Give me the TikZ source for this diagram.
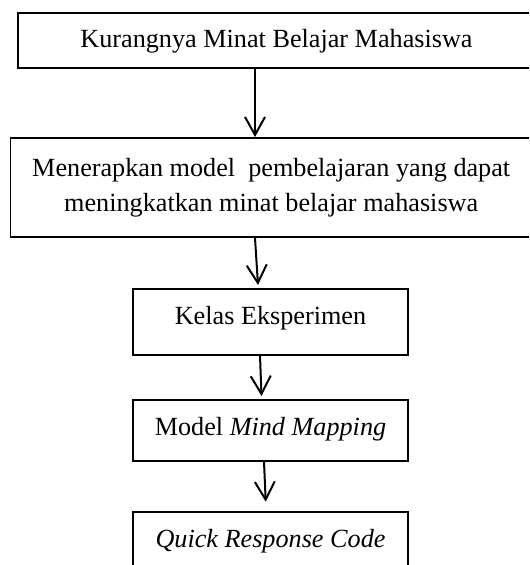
\documentclass[tikz,border=0pt]{standalone}
\usepackage{fontspec}
\setmainfont{Liberation Serif}
\usepackage{tikz}
\usetikzlibrary{arrows.meta}

\begin{document}
\begin{tikzpicture}[x=1pt,y=1pt,
	box/.style={draw, line width=0.8pt, inner xsep=0pt, inner ysep=0pt, anchor=north,
		font=\fontsize{13.1}{17.5}\selectfont},
	flow/.style={line width=1pt, -{Straight Barb[length=9pt,width=10pt,line width=1pt]}}]
	\useasboundingbox (0,0) rectangle (264.5,-282.5);
	\clip (0,0) rectangle (264.5,-282.5);
	% kotak-kotak alur
	\node[box, minimum width=258.5pt, text height=17.1pt, text depth=10.15pt] (kurang) at (138.25,-6.25) {Kurangnya Minat Belajar Mahasiswa};
	\node[box, minimum width=260.75pt, minimum height=49.75pt, align=center] (terap) at (135.6,-68.5) {Menerapkan model \ pembelajaran yang dapat\\meningkatkan minat belajar mahasiswa};
	\node[box, minimum width=137.5pt, text height=18pt, text depth=15pt] (kelas) at (135.25,-144) {Kelas Eksperimen};
	\node[box, minimum width=137.5pt, text height=18pt, text depth=12.5pt] (mind) at (135.25,-199.5) {Model \textit{Mind Mapping}};
	\node[box, minimum width=137.5pt, text height=17.85pt, text depth=15pt] (qrc) at (135.25,-255.5) {\textit{Quick Response Code}};
	% panah
	\draw [flow] ([xshift=-10.75pt]kurang.south) -- ([xshift=-8.1pt]terap.north);
	\draw [flow] ([xshift=-8.1pt]terap.south) -- ([xshift=-6.25pt,yshift=1.5pt]kelas.north);
	\draw [flow] ([xshift=-5.25pt]kelas.south) -- ([xshift=-4.5pt,yshift=1.5pt]mind.north);
	\draw [flow] ([xshift=-3.25pt]mind.south) -- ([xshift=-2.4pt,yshift=4.65pt]qrc.north);
\end{tikzpicture}
\end{document}
